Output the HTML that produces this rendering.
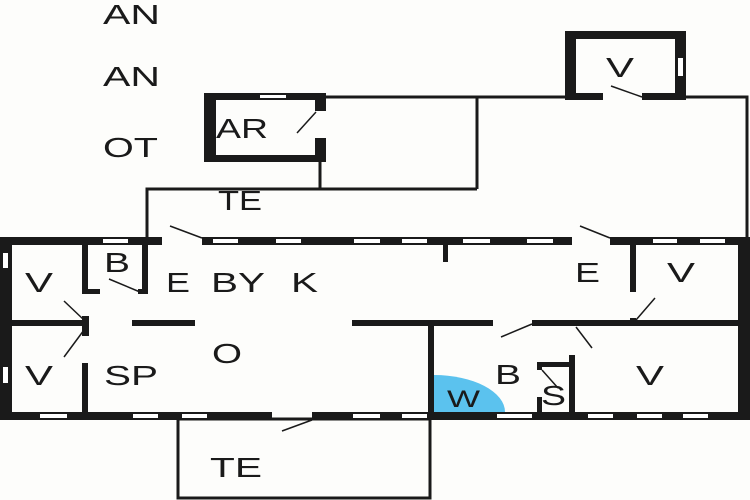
<!DOCTYPE html>
<html><head><meta charset="utf-8"><style>
html,body{margin:0;padding:0;background:#fdfdfb}
svg{display:block}
text{font-family:"Liberation Sans",sans-serif;font-size:28px;fill:#1a1a1a}
</style></head><body>
<svg width="750" height="500" viewBox="0 0 750 500" xmlns="http://www.w3.org/2000/svg">
<rect width="750" height="500" fill="#fdfdfb"/>
<g fill="none" stroke="#1a1a1a" stroke-width="3">
<polyline points="326,97 565,97"/>
<polyline points="686,97 747,97 747,240"/>
<polyline points="477,97 477,189"/>
<polyline points="320,162 320,189"/>
<polyline points="147,242 147,189 477,189"/>
<rect x="178" y="419" width="252" height="79"/>
</g>
<g fill="#1a1a1a">
<rect x="204" y="93" width="122" height="7"/>
<rect x="204" y="93" width="12" height="69"/>
<rect x="204" y="155" width="122" height="7"/>
<rect x="315" y="93" width="11" height="18"/>
<rect x="315" y="138" width="11" height="24"/>
</g>
<rect x="260" y="95" width="26" height="3" fill="#fff"/>
<line x1="316" y1="112" x2="297" y2="133" stroke="#1a1a1a" stroke-width="1.5"/>
<g fill="#1a1a1a">
<rect x="565" y="31" width="121" height="8"/>
<rect x="565" y="31" width="11" height="69"/>
<rect x="675" y="31" width="11" height="69"/>
<rect x="565" y="93" width="38" height="7"/>
<rect x="642" y="93" width="44" height="7"/>
</g>
<rect x="678" y="58" width="5" height="18" fill="#fff"/>
<line x1="611" y1="86" x2="642" y2="97" stroke="#1a1a1a" stroke-width="1.5"/>
<g fill="#1a1a1a">
<rect x="0" y="237" width="162" height="8"/>
<rect x="202" y="237" width="370" height="8"/>
<rect x="610" y="237" width="140" height="8"/>
<rect x="0" y="412" width="272" height="8"/>
<rect x="312" y="412" width="438" height="8"/>
<rect x="0" y="237" width="12" height="183"/>
<rect x="738" y="237" width="12" height="183"/>
<rect x="12" y="320" width="76" height="6"/>
<rect x="82" y="316" width="7" height="20"/>
<rect x="82" y="363" width="6" height="50"/>
<rect x="82" y="245" width="6" height="49"/>
<rect x="82" y="289" width="18" height="5"/>
<rect x="142" y="245" width="6" height="49"/>
<rect x="138" y="289" width="10" height="5"/>
<rect x="132" y="320" width="63" height="6"/>
<rect x="352" y="320" width="141" height="6"/>
<rect x="532" y="320" width="206" height="6"/>
<rect x="443" y="245" width="5" height="17"/>
<rect x="630" y="245" width="6" height="47"/>
<rect x="630" y="318" width="6" height="6"/>
<rect x="428" y="320" width="6" height="93"/>
<rect x="569" y="355" width="6" height="58"/>
<rect x="537" y="362" width="36" height="5"/>
<rect x="537" y="362" width="5" height="8"/>
<rect x="537" y="397" width="5" height="16"/>
</g>
<g fill="#fff">
<rect x="103" y="239" width="25" height="4"/>
<rect x="213" y="239" width="25" height="4"/>
<rect x="276" y="239" width="25" height="4"/>
<rect x="354" y="239" width="26" height="4"/>
<rect x="402" y="239" width="25" height="4"/>
<rect x="463" y="239" width="27" height="4"/>
<rect x="527" y="239" width="26" height="4"/>
<rect x="653" y="239" width="24" height="4"/>
<rect x="700" y="239" width="25" height="4"/>
<rect x="40" y="414" width="27" height="4"/>
<rect x="133" y="414" width="25" height="4"/>
<rect x="182" y="414" width="25" height="4"/>
<rect x="353" y="414" width="27" height="4"/>
<rect x="402" y="414" width="25" height="4"/>
<rect x="497" y="414" width="35" height="4"/>
<rect x="588" y="414" width="25" height="4"/>
<rect x="637" y="414" width="25" height="4"/>
<rect x="683" y="414" width="25" height="4"/>
<rect x="3" y="253" width="5" height="15"/>
<rect x="3" y="367" width="5" height="16"/>
</g>
<path d="M434,412 L434,375 A71,37 0 0 1 505,412 Z" fill="#5bc2ee"/>
<g stroke="#1a1a1a" stroke-width="1.5">
<line x1="170" y1="226" x2="202" y2="238"/>
<line x1="580" y1="226" x2="610" y2="238"/>
<line x1="282" y1="431" x2="312" y2="420"/>
<line x1="109" y1="279" x2="140" y2="292"/>
<line x1="64" y1="301" x2="84" y2="320"/>
<line x1="64" y1="357" x2="84" y2="330"/>
<line x1="655" y1="298" x2="636" y2="320"/>
<line x1="501" y1="337" x2="532" y2="324"/>
<line x1="576" y1="327" x2="592" y2="348"/>
<line x1="542" y1="370" x2="558" y2="388"/>
</g>
<g>
<text x="103" y="24" textLength="57" lengthAdjust="spacingAndGlyphs">AN</text>
<text x="103" y="86" textLength="57" lengthAdjust="spacingAndGlyphs">AN</text>
<text x="103" y="157" textLength="55" lengthAdjust="spacingAndGlyphs">OT</text>
<text x="216" y="138" textLength="52" lengthAdjust="spacingAndGlyphs">AR</text>
<text x="606" y="77" textLength="28" lengthAdjust="spacingAndGlyphs">V</text>
<text x="218" y="210" textLength="44" lengthAdjust="spacingAndGlyphs">TE</text>
<text x="104" y="272" textLength="26" lengthAdjust="spacingAndGlyphs">B</text>
<text x="25" y="292" textLength="28" lengthAdjust="spacingAndGlyphs">V</text>
<text x="166" y="292" textLength="24" lengthAdjust="spacingAndGlyphs">E</text>
<text x="211" y="292" textLength="54" lengthAdjust="spacingAndGlyphs">BY</text>
<text x="291" y="292" textLength="27" lengthAdjust="spacingAndGlyphs">K</text>
<text x="575" y="282" textLength="25" lengthAdjust="spacingAndGlyphs">E</text>
<text x="667" y="282" textLength="28" lengthAdjust="spacingAndGlyphs">V</text>
<text x="25" y="385" textLength="28" lengthAdjust="spacingAndGlyphs">V</text>
<text x="104" y="385" textLength="54" lengthAdjust="spacingAndGlyphs">SP</text>
<text x="212" y="363" textLength="30" lengthAdjust="spacingAndGlyphs">O</text>
<text x="495" y="384" textLength="26" lengthAdjust="spacingAndGlyphs">B</text>
<text x="636" y="385" textLength="28" lengthAdjust="spacingAndGlyphs">V</text>
<text x="541" y="405" textLength="25" lengthAdjust="spacingAndGlyphs">S</text>
<text x="447" y="407" style="font-size:24px" textLength="33" lengthAdjust="spacingAndGlyphs">W</text>
<text x="210" y="477" textLength="52" lengthAdjust="spacingAndGlyphs">TE</text>
</g>
</svg>
</body></html>
